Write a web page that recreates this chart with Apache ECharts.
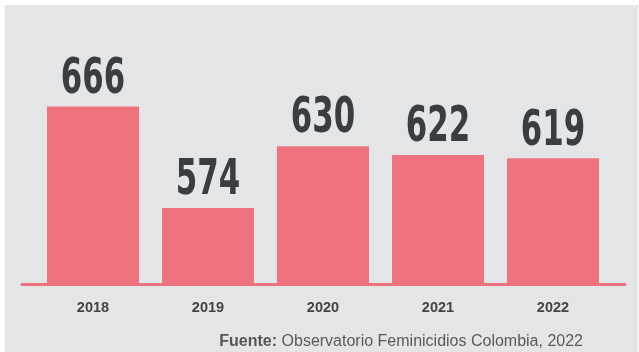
<!DOCTYPE html>
<html>
<head>
<meta charset="utf-8">
<script src="https://cdn.jsdelivr.net/npm/echarts@6/dist/echarts.min.js"></script>
<style>
html,body{margin:0;padding:0;background:#ffffff;}
#chart{position:absolute;left:5px;top:5px;width:633px;height:347px;background:#e3e5e7;}
</style>
</head>
<body>
<div id="chart"></div>
<script>
const years = ['2018', '2019', '2020', '2021', '2022'];
const values = [666, 574, 630, 622, 619];
const sourceLabel = 'Fuente:';
const sourceText = 'Observatorio Feminicidios Colombia, 2022';

const chart = echarts.init(document.getElementById('chart'));
const barColor = '#ef737f';
chart.setOption({
  animation: false,
  backgroundColor: '#e3e5e7',
  grid: [
    {left: 30.5, right: 27.5, top: 64, bottom: 68},
    {left: 17, right: 13, top: 64, bottom: 68}
  ],
  xAxis: [
    {type: 'category', data: years, gridIndex: 0,
     axisLine: {show: false}, axisTick: {show: false},
     axisLabel: {color: '#444', fontSize: 14.5, fontWeight: 'bold', margin: 16,
                 fontFamily: '"Liberation Sans", Arial, sans-serif'}},
    {type: 'category', data: years, gridIndex: 1,
     axisLine: {show: true, lineStyle: {color: barColor, width: 3}},
     axisTick: {show: false}, axisLabel: {show: false}}
  ],
  yAxis: [
    {type: 'value', min: 505, max: 700, gridIndex: 0, show: false},
    {type: 'value', min: 505, max: 700, gridIndex: 1, show: false}
  ],
  title: {
    text: '{b|' + sourceLabel + '}{r| ' + sourceText + '}',
    right: 50, bottom: -3,
    textStyle: {
      fontWeight: 'normal',
      rich: {
        b: {fontWeight: 'bold', fontSize: 16, color: '#555', fontFamily: '"Liberation Sans", Arial, sans-serif'},
        r: {fontWeight: 'normal', fontSize: 16, color: '#5a5a5a', fontFamily: '"Liberation Sans", Arial, sans-serif'}
      }
    }
  },
  series: [
    {type: 'bar', data: values, barCategoryGap: '20%', xAxisIndex: 0, yAxisIndex: 0,
     itemStyle: {color: barColor}},
    {type: 'custom', xAxisIndex: 0, yAxisIndex: 0, data: values.map((v, i) => [i, v]),
     z: 10,
     renderItem: function (params, api) {
       const p = api.coord([api.value(0), api.value(1)]);
       return {
         type: 'text', x: p[0], y: p[1] - 2, scaleX: 0.70,
         style: {
           text: String(api.value(1)),
           font: 'bold 49px "DejaVu Sans Condensed", sans-serif',
           fill: '#3a3d41', align: 'center', verticalAlign: 'bottom'
         }
       };
     }}
  ]
});
</script>
</body>
</html>
